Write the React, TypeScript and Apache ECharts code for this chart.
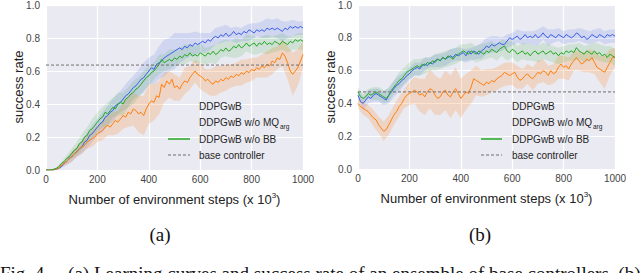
import React, { useEffect, useRef } from "react";
import * as echarts from "echarts";

// x grid: environment steps (x 10^3), every 10
const STEPS: number[] = Array.from({ length: 101 }, (_, i) => i * 10);
const X_TICKS = [0, 200, 400, 600, 800, 1000];
const Y_TICKS = [0, 0.2, 0.4, 0.6, 0.8, 1.0];

const SERIES_NAMES = ["DDPGwB", "DDPGwB w/o MQ", "DDPGwB w/o BB", "base controller"];

// ---------- (a) ----------
const A_BLUE = [0, 0, 0, 0, 0.005, 0.01, 0.02, 0.04, 0.05, 0.07, 0.08, 0.1, 0.11, 0.13, 0.14, 0.17, 0.18, 0.21, 0.22, 0.24, 0.26, 0.28, 0.29, 0.32, 0.33, 0.35, 0.36, 0.39, 0.4, 0.41, 0.43, 0.45, 0.46, 0.48, 0.5, 0.51, 0.53, 0.55, 0.56, 0.58, 0.6, 0.62, 0.61, 0.64, 0.65, 0.66, 0.68, 0.69, 0.7, 0.71, 0.72, 0.73, 0.74, 0.73, 0.75, 0.74, 0.76, 0.75, 0.77, 0.76, 0.77, 0.78, 0.77, 0.79, 0.78, 0.8, 0.81, 0.8, 0.82, 0.81, 0.83, 0.81, 0.82, 0.84, 0.82, 0.83, 0.82, 0.84, 0.83, 0.85, 0.84, 0.83, 0.85, 0.84, 0.85, 0.84, 0.86, 0.85, 0.86, 0.85, 0.86, 0.85, 0.84, 0.86, 0.85, 0.87, 0.86, 0.87, 0.86, 0.87, 0.86];
const A_ORANGE = [0, 0, 0, 0, 0.005, 0.01, 0.03, 0.04, 0.05, 0.07, 0.08, 0.1, 0.11, 0.13, 0.14, 0.15, 0.17, 0.18, 0.19, 0.2, 0.22, 0.23, 0.24, 0.26, 0.27, 0.26, 0.28, 0.3, 0.29, 0.31, 0.33, 0.32, 0.35, 0.34, 0.37, 0.36, 0.34, 0.35, 0.33, 0.37, 0.4, 0.42, 0.41, 0.45, 0.44, 0.52, 0.5, 0.54, 0.52, 0.55, 0.5, 0.51, 0.49, 0.52, 0.54, 0.53, 0.56, 0.58, 0.6, 0.58, 0.57, 0.56, 0.54, 0.55, 0.53, 0.52, 0.54, 0.53, 0.55, 0.54, 0.56, 0.55, 0.57, 0.56, 0.58, 0.57, 0.59, 0.58, 0.6, 0.59, 0.61, 0.6, 0.62, 0.61, 0.63, 0.62, 0.64, 0.63, 0.66, 0.65, 0.68, 0.67, 0.71, 0.69, 0.65, 0.6, 0.58, 0.6, 0.62, 0.66, 0.7];
const A_GREEN = [0, 0, 0, 0.005, 0.01, 0.02, 0.04, 0.05, 0.07, 0.08, 0.1, 0.12, 0.13, 0.16, 0.17, 0.2, 0.21, 0.24, 0.25, 0.27, 0.29, 0.31, 0.32, 0.35, 0.34, 0.36, 0.38, 0.37, 0.4, 0.41, 0.4, 0.43, 0.44, 0.46, 0.47, 0.49, 0.5, 0.52, 0.54, 0.56, 0.57, 0.59, 0.6, 0.62, 0.64, 0.67, 0.65, 0.66, 0.67, 0.66, 0.68, 0.67, 0.69, 0.68, 0.7, 0.69, 0.71, 0.69, 0.7, 0.69, 0.71, 0.7, 0.69, 0.71, 0.7, 0.72, 0.7, 0.71, 0.73, 0.72, 0.74, 0.72, 0.73, 0.75, 0.74, 0.76, 0.74, 0.75, 0.77, 0.75, 0.76, 0.77, 0.75, 0.77, 0.76, 0.78, 0.76, 0.77, 0.76, 0.78, 0.77, 0.76, 0.78, 0.77, 0.76, 0.78, 0.77, 0.79, 0.78, 0.79, 0.78];
// band half-widths, every 20 steps
const A_BLUE_HW = [0, 0, 0.005, 0.01, 0.02, 0.03, 0.03, 0.04, 0.05, 0.05, 0.05, 0.06, 0.06, 0.07, 0.06, 0.07, 0.08, 0.07, 0.08, 0.09, 0.08, 0.09, 0.1, 0.11, 0.1, 0.11, 0.09, 0.08, 0.07, 0.07, 0.06, 0.06, 0.05, 0.05, 0.05, 0.05, 0.04, 0.05, 0.04, 0.05, 0.05, 0.04, 0.05, 0.06, 0.05, 0.06, 0.06, 0.05, 0.05, 0.04, 0.04];
const A_ORANGE_HW = [0, 0, 0.005, 0.01, 0.02, 0.03, 0.03, 0.04, 0.04, 0.05, 0.05, 0.06, 0.06, 0.07, 0.07, 0.08, 0.09, 0.1, 0.11, 0.12, 0.12, 0.11, 0.1, 0.09, 0.08, 0.08, 0.07, 0.08, 0.07, 0.07, 0.08, 0.07, 0.08, 0.09, 0.08, 0.08, 0.07, 0.07, 0.08, 0.07, 0.07, 0.06, 0.07, 0.08, 0.08, 0.07, 0.08, 0.1, 0.13, 0.11, 0.08];
const A_GREEN_HW = [0, 0, 0.005, 0.01, 0.02, 0.03, 0.04, 0.05, 0.05, 0.06, 0.06, 0.06, 0.07, 0.06, 0.07, 0.07, 0.06, 0.07, 0.06, 0.06, 0.06, 0.05, 0.06, 0.05, 0.06, 0.05, 0.05, 0.06, 0.05, 0.05, 0.06, 0.05, 0.05, 0.06, 0.05, 0.05, 0.05, 0.06, 0.05, 0.05, 0.06, 0.05, 0.05, 0.06, 0.05, 0.05, 0.05, 0.05, 0.04, 0.05, 0.05];
const A_BASE = 0.636;

// ---------- (b) ----------
const B_BLUE = [0.45, 0.41, 0.4, 0.42, 0.44, 0.43, 0.45, 0.46, 0.45, 0.44, 0.43, 0.42, 0.45, 0.47, 0.49, 0.51, 0.52, 0.54, 0.55, 0.57, 0.58, 0.6, 0.61, 0.62, 0.61, 0.63, 0.64, 0.63, 0.65, 0.64, 0.66, 0.67, 0.66, 0.68, 0.67, 0.68, 0.69, 0.68, 0.7, 0.69, 0.7, 0.71, 0.69, 0.72, 0.7, 0.72, 0.71, 0.7, 0.72, 0.73, 0.75, 0.74, 0.76, 0.75, 0.76, 0.77, 0.76, 0.76, 0.78, 0.8, 0.79, 0.8, 0.81, 0.79, 0.8, 0.82, 0.8, 0.81, 0.8, 0.82, 0.8, 0.81, 0.83, 0.81, 0.8, 0.82, 0.81, 0.8, 0.82, 0.81, 0.8, 0.82, 0.81, 0.8, 0.81, 0.83, 0.82, 0.8, 0.81, 0.79, 0.8, 0.82, 0.81, 0.8, 0.82, 0.81, 0.8, 0.82, 0.81, 0.82, 0.81];
const B_ORANGE = [0.4, 0.38, 0.37, 0.36, 0.35, 0.33, 0.31, 0.3, 0.27, 0.25, 0.23, 0.24, 0.27, 0.3, 0.33, 0.35, 0.38, 0.4, 0.43, 0.45, 0.46, 0.47, 0.48, 0.47, 0.45, 0.46, 0.44, 0.47, 0.49, 0.48, 0.45, 0.43, 0.44, 0.47, 0.48, 0.45, 0.44, 0.47, 0.49, 0.46, 0.43, 0.45, 0.47, 0.46, 0.5, 0.55, 0.54, 0.53, 0.52, 0.51, 0.53, 0.52, 0.54, 0.53, 0.55, 0.56, 0.57, 0.59, 0.58, 0.57, 0.58, 0.59, 0.56, 0.54, 0.55, 0.57, 0.58, 0.56, 0.55, 0.57, 0.59, 0.58, 0.6, 0.59, 0.57, 0.6, 0.58, 0.59, 0.62, 0.64, 0.62, 0.63, 0.61, 0.64, 0.66, 0.68, 0.66, 0.64, 0.65, 0.67, 0.66, 0.68, 0.65, 0.62, 0.61, 0.6, 0.59, 0.62, 0.65, 0.68, 0.68];
const B_GREEN = [0.47, 0.44, 0.43, 0.44, 0.46, 0.45, 0.46, 0.47, 0.46, 0.45, 0.44, 0.43, 0.45, 0.48, 0.5, 0.52, 0.54, 0.55, 0.57, 0.59, 0.6, 0.61, 0.62, 0.63, 0.62, 0.64, 0.63, 0.65, 0.64, 0.66, 0.65, 0.67, 0.66, 0.68, 0.67, 0.69, 0.68, 0.67, 0.69, 0.7, 0.71, 0.72, 0.71, 0.7, 0.72, 0.71, 0.7, 0.72, 0.71, 0.7, 0.72, 0.71, 0.73, 0.72, 0.71, 0.73, 0.74, 0.75, 0.72, 0.71, 0.73, 0.72, 0.7, 0.71, 0.72, 0.7, 0.71, 0.69, 0.71, 0.72, 0.7, 0.71, 0.72, 0.7, 0.71, 0.72, 0.7, 0.71, 0.69, 0.71, 0.7, 0.72, 0.71, 0.72, 0.71, 0.74, 0.72, 0.71, 0.7, 0.72, 0.71, 0.7, 0.72, 0.7, 0.71, 0.69, 0.7, 0.68, 0.7, 0.69, 0.68];
const B_BLUE_HW = [0.03, 0.04, 0.04, 0.04, 0.04, 0.04, 0.05, 0.05, 0.05, 0.04, 0.04, 0.04, 0.04, 0.04, 0.03, 0.04, 0.04, 0.04, 0.04, 0.04, 0.04, 0.04, 0.04, 0.04, 0.05, 0.05, 0.05, 0.05, 0.04, 0.04, 0.04, 0.04, 0.04, 0.04, 0.04, 0.05, 0.04, 0.05, 0.04, 0.04, 0.04, 0.04, 0.04, 0.04, 0.04, 0.04, 0.04, 0.04, 0.04, 0.04, 0.04];
const B_ORANGE_HW = [0.03, 0.04, 0.04, 0.05, 0.05, 0.06, 0.06, 0.06, 0.06, 0.06, 0.07, 0.08, 0.1, 0.11, 0.12, 0.12, 0.11, 0.12, 0.13, 0.13, 0.12, 0.11, 0.1, 0.09, 0.08, 0.08, 0.07, 0.07, 0.07, 0.07, 0.07, 0.07, 0.06, 0.06, 0.07, 0.07, 0.07, 0.06, 0.06, 0.07, 0.07, 0.07, 0.06, 0.06, 0.06, 0.07, 0.07, 0.08, 0.1, 0.08, 0.06];
const B_GREEN_HW = [0.03, 0.03, 0.03, 0.04, 0.04, 0.04, 0.04, 0.04, 0.05, 0.05, 0.05, 0.05, 0.05, 0.05, 0.04, 0.05, 0.05, 0.05, 0.05, 0.05, 0.05, 0.05, 0.05, 0.05, 0.05, 0.05, 0.05, 0.05, 0.05, 0.06, 0.05, 0.05, 0.05, 0.05, 0.05, 0.05, 0.05, 0.05, 0.05, 0.05, 0.05, 0.05, 0.05, 0.05, 0.05, 0.05, 0.05, 0.05, 0.05, 0.05, 0.05];
const B_BASE = 0.47;

const BLUE = "#3b5ee6";
const ORANGE = "#ff7f0e";
const GREEN = "#22a822";
const BASE_COLOR = "#6f6f6f";
const SANS = "'Liberation Sans', Arial, Helvetica, sans-serif";
const SERIF = "'Liberation Serif', 'Times New Roman', serif";

function lineSeries(idx: number, name: string, vals: number[], color: string, z: number) {
  return {
    type: "line",
    name,
    xAxisIndex: idx,
    yAxisIndex: idx,
    data: STEPS.map((x, i) => [x, vals[i]]),
    showSymbol: false,
    symbol: "none",
    lineStyle: { color, width: 1 },
    z,
    silent: true,
  };
}

function bandSeries(idx: number, mid: number[], hw: number[], color: string, opacity: number) {
  return {
    type: "custom",
    xAxisIndex: idx,
    yAxisIndex: idx,
    data: [[0, 0]],
    silent: true,
    z: 1,
    renderItem: (params: any, api: any) => {
      const upper: number[][] = [];
      const lower: number[][] = [];
      hw.forEach((h, j) => {
        const x = STEPS[j * 2];
        const m = mid[j * 2];
        upper.push(api.coord([x, Math.min(1, m + h)]));
        lower.push(api.coord([x, Math.max(0, m - h)]));
      });
      const points = upper.concat(lower.reverse());
      return {
        type: "polygon",
        shape: { points },
        style: { fill: color, opacity, stroke: "none" },
      };
    },
  };
}

function baseSeries(idx: number, v: number) {
  return {
    type: "line",
    name: SERIES_NAMES[3],
    xAxisIndex: idx,
    yAxisIndex: idx,
    data: [[0, v], [1000, v]],
    showSymbol: false,
    symbol: "none",
    lineStyle: { color: BASE_COLOR, width: 1, type: [3, 2] },
    z: 5,
    silent: true,
  };
}

function legendGraphics(textX: number, lineX0: number, lineX1: number) {
  const ys = [106, 122, 139, 155];
  const t = (txt: string, x: number, y: number, size = 10) => ({
    type: "text",
    x,
    y,
    z: 100,
    silent: true,
    style: { text: txt, fontSize: size, fontFamily: SANS, fill: "#262626", align: "left", verticalAlign: "middle" },
  });
  return [
    t(SERIES_NAMES[0], textX, ys[0]),
    t(SERIES_NAMES[1], textX, ys[1]),
    t("arg", textX + 81, ys[1] + 4, 6.5),
    t(SERIES_NAMES[2], textX, ys[2]),
    t(SERIES_NAMES[3], textX, ys[3]),
    {
      type: "line",
      z: 100,
      silent: true,
      shape: { x1: lineX0, y1: ys[2], x2: lineX1, y2: ys[2] },
      style: { stroke: GREEN, lineWidth: 1.5 },
    },
    {
      type: "line",
      z: 100,
      silent: true,
      shape: { x1: lineX0, y1: ys[3], x2: lineX1, y2: ys[3] },
      style: { stroke: BASE_COLOR, lineWidth: 1, lineDash: [3, 2] },
    },
  ];
}

export default function App() {
  const ref = useRef<HTMLDivElement>(null);
  useEffect(() => {
    if (!ref.current) return;
    const chart = echarts.init(ref.current, null, { renderer: "svg" });
    const xAxisBase = (gridIndex: number) => ({
      type: "value",
      gridIndex,
      min: X_TICKS[0],
      max: X_TICKS[X_TICKS.length - 1],
      interval: 200,
      axisLine: { show: false },
      axisTick: { show: false },
      axisLabel: { color: "#444", fontSize: 10, fontFamily: SANS, margin: 4, formatter: (v: number) => String(v) },
      splitLine: { show: true, lineStyle: { color: "#ffffff", width: 1.2 } },
      name: "Number of environment steps (x 10{sup|3})",
      nameLocation: "middle",
      nameGap: 21,
      nameTextStyle: {
        fontSize: 13,
        fontFamily: SANS,
        color: "#222",
        rich: { sup: { fontSize: 8, fontFamily: SANS, color: "#222", verticalAlign: "top", padding: [0, 0, 8, 0] } },
      },
    });
    const yAxisBase = (gridIndex: number) => ({
      type: "value",
      gridIndex,
      min: Y_TICKS[0],
      max: Y_TICKS[Y_TICKS.length - 1],
      interval: 0.2,
      axisLine: { show: false },
      axisTick: { show: false },
      axisLabel: { color: "#444", fontSize: 10, fontFamily: SANS, margin: 6, formatter: (v: number) => v.toFixed(1) },
      splitLine: { show: true, lineStyle: { color: "#ffffff", width: 1.2 } },
    });
    const option: any = {
      animation: false,
      backgroundColor: "#ffffff",
      grid: [
        { left: 46, right: 337, top: 4, bottom: 103, show: true, backgroundColor: "#eaeaf2", borderWidth: 0 },
        { left: 358, right: 25, top: 4, bottom: 104, show: true, backgroundColor: "#eaeaf2", borderWidth: 0 },
      ],
      xAxis: [xAxisBase(0), xAxisBase(1)],
      yAxis: [yAxisBase(0), yAxisBase(1)],
      series: [
        bandSeries(0, A_BLUE, A_BLUE_HW, BLUE, 0.15),
        bandSeries(0, A_ORANGE, A_ORANGE_HW, ORANGE, 0.2),
        bandSeries(0, A_GREEN, A_GREEN_HW, GREEN, 0.13),
        lineSeries(0, SERIES_NAMES[0], A_BLUE, BLUE, 3),
        lineSeries(0, SERIES_NAMES[1], A_ORANGE, ORANGE, 3),
        lineSeries(0, SERIES_NAMES[2], A_GREEN, GREEN, 4),
        baseSeries(0, A_BASE),
        bandSeries(1, B_BLUE, B_BLUE_HW, BLUE, 0.15),
        bandSeries(1, B_ORANGE, B_ORANGE_HW, ORANGE, 0.2),
        bandSeries(1, B_GREEN, B_GREEN_HW, GREEN, 0.13),
        lineSeries(1, SERIES_NAMES[0], B_BLUE, BLUE, 3),
        lineSeries(1, SERIES_NAMES[1], B_ORANGE, ORANGE, 3),
        lineSeries(1, SERIES_NAMES[2], B_GREEN, GREEN, 4),
        baseSeries(1, B_BASE),
      ],
      graphic: [
        {
          type: "text",
          x: 18,
          y: 87,
          rotation: Math.PI / 2,
          z: 100,
          silent: true,
          style: { text: "success rate", fontSize: 13, fontFamily: SANS, fill: "#222", align: "center", verticalAlign: "middle" },
        },
        {
          type: "text",
          x: 330,
          y: 87,
          rotation: Math.PI / 2,
          z: 100,
          silent: true,
          style: { text: "success rate", fontSize: 13, fontFamily: SANS, fill: "#222", align: "center", verticalAlign: "middle" },
        },
        ...legendGraphics(199, 168, 190),
        ...legendGraphics(512, 481, 502),
        {
          type: "text",
          x: 160,
          y: 234,
          z: 100,
          silent: true,
          style: { text: "(a)", fontSize: 19, fontFamily: SERIF, fill: "#111", align: "center", verticalAlign: "middle" },
        },
        {
          type: "text",
          x: 480,
          y: 234,
          z: 100,
          silent: true,
          style: { text: "(b)", fontSize: 19, fontFamily: SERIF, fill: "#111", align: "center", verticalAlign: "middle" },
        },
        {
          type: "text",
          x: 0,
          y: 264,
          z: 100,
          silent: true,
          style: {
            text: "Fig. 4.    (a) Learning curves and success rate of an ensemble of base controllers. (b)",
            fontSize: 19,
            fontFamily: SERIF,
            fill: "#111",
            align: "left",
            verticalAlign: "top",
          },
        },
      ],
    };
    chart.setOption(option);
    return () => chart.dispose();
  }, []);
  return <div ref={ref} style={{ position: "absolute", left: 0, top: 0, width: 640, height: 273 }} />;
}
